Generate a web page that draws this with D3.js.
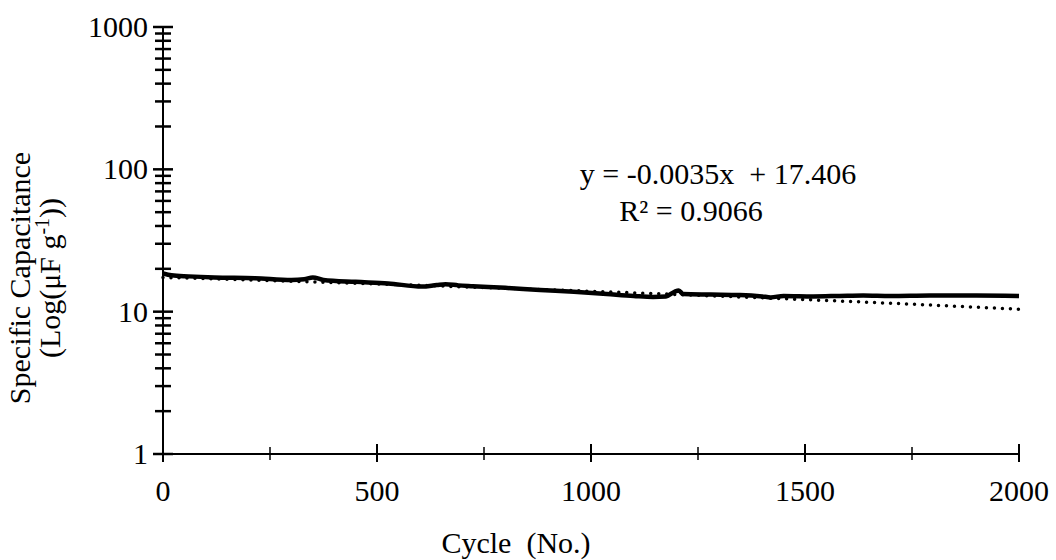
<!DOCTYPE html>
<html>
<head>
<meta charset="utf-8">
<script src="https://cdn.jsdelivr.net/npm/d3@7"></script>
<style>
  body { margin: 0; background: #fff; }
  svg text { font-family: "Liberation Serif", "Times New Roman", serif; fill: #000; }
</style>
</head>
<body>
<div id="chart"></div>
<script>
var cycles = [0, 20, 60, 120, 215, 300, 330, 350, 375, 450, 526, 605, 640, 660, 690, 724, 800, 881, 960, 1037, 1100, 1145, 1175, 1195, 1205, 1215, 1280, 1348, 1400, 1420, 1450, 1519, 1580, 1636, 1700, 1792, 1900, 2000];
var capacitance = [18.6, 18.0, 17.7, 17.4, 17.2, 16.7, 16.9, 17.4, 16.7, 16.2, 15.8, 15.0, 15.4, 15.6, 15.3, 15.1, 14.7, 14.2, 13.8, 13.3, 12.9, 12.7, 12.8, 13.8, 14.1, 13.3, 13.2, 13.1, 12.8, 12.6, 12.9, 12.8, 12.9, 13.0, 12.9, 13.0, 13.0, 12.9];

// Linear trendline shown on the chart (y = -0.0035x + 17.406)
var trendSlope = -0.0035;
var trendIntercept = 17.406;
var trendCycles = d3.range(0, 2001, 50);

// Axis ticks
var xTicks = [0, 500, 1000, 1500, 2000];
var xMinorTicks = [250, 750, 1250, 1750];
var yTicks = [1, 10, 100, 1000];

var width = 1056, height = 560;
var margin = {top: 27, right: 37, bottom: 106, left: 163};
var w = width - margin.left - margin.right,
  h = height - margin.top - margin.bottom;

var svg = d3.select("#chart")
  .append("svg")
  .attr("width", width)
  .attr("height", height);

var g = svg.append("g")
  .attr("transform", "translate(" + margin.left + "," + margin.top + ")");

var xScale = d3.scaleLinear().domain([0, 2000]).range([0, w]);
var yScale = d3.scaleLog().domain([1, 1000]).range([h, 0]);

//Minor log ticks 2..9 for each decade
var yMinorTicks = [];
[1, 10, 100].forEach(function(d) {
  for (var k = 2; k <= 9; k++) yMinorTicks.push(d * k);
});

// Axes lines
g.append("line")
  .attr("x1", 0).attr("x2", w)
  .attr("y1", h).attr("y2", h)
  .style("stroke", "#000").style("stroke-width", 2);

g.append("line")
  .attr("x1", 0).attr("x2", 0)
  .attr("y1", 0).attr("y2", h)
  .style("stroke", "#000").style("stroke-width", 2);

// X ticks (cross the axis)
g.selectAll(".xtick")
  .data(xTicks)
  .enter().append("line")
  .attr("x1", function(d) { return xScale(d); })
  .attr("x2", function(d) { return xScale(d); })
  .attr("y1", h - 10).attr("y2", h + 8)
  .style("stroke", "#000").style("stroke-width", 2);

g.selectAll(".xminor")
  .data(xMinorTicks)
  .enter().append("line")
  .attr("x1", function(d) { return xScale(d); })
  .attr("x2", function(d) { return xScale(d); })
  .attr("y1", h - 7).attr("y2", h + 6)
  .style("stroke", "#000").style("stroke-width", 1.5);

g.selectAll(".xlabel")
  .data(xTicks)
  .enter().append("text")
  .attr("x", function(d) { return xScale(d); })
  .attr("y", h + 47)
  .attr("text-anchor", "middle")
  .style("font-size", "30px")
  .text(function(d) { return d; });

// Y ticks
g.selectAll(".ytick")
  .data(yTicks)
  .enter().append("line")
  .attr("x1", -10).attr("x2", 10)
  .attr("y1", function(d) { return yScale(d); })
  .attr("y2", function(d) { return yScale(d); })
  .style("stroke", "#000").style("stroke-width", 2.5);

g.selectAll(".yminor")
  .data(yMinorTicks)
  .enter().append("line")
  .attr("x1", -8).attr("x2", 8)
  .attr("y1", function(d) { return yScale(d); })
  .attr("y2", function(d) { return yScale(d); })
  .style("stroke", "#000").style("stroke-width", 2.5);

g.selectAll(".ylabel")
  .data(yTicks)
  .enter().append("text")
  .attr("x", -15)
  .attr("y", function(d) { return yScale(d); })
  .attr("dy", "0.33em")
  .attr("text-anchor", "end")
  .style("font-size", "30px")
  .text(function(d) { return d; });

// Measured data
var line = d3.line()
  .x(function(d, i) { return xScale(cycles[i]); })
  .y(function(d) { return yScale(d); })
  .curve(d3.curveMonotoneX);

g.append("path")
  .datum(capacitance)
  .attr("d", line)
  .style("fill", "none")
  .style("stroke", "#000")
  .style("stroke-width", 4.5)
  .style("stroke-linejoin", "round");

// Trendline (dotted)
var trendLine = d3.line()
  .x(function(d) { return xScale(d); })
  .y(function(d) { return yScale(trendSlope * d + trendIntercept); });

g.append("path")
  .datum(trendCycles)
  .attr("d", trendLine)
  .style("fill", "none")
  .style("stroke", "#000")
  .style("stroke-width", 3.5)
  .style("stroke-linecap", "round")
  .style("stroke-dasharray", "0,8");

// Trendline equation
svg.append("text")
  .attr("x", 718).attr("y", 184)
  .attr("text-anchor", "middle")
  .style("font-size", "30px")
  .style("white-space", "pre")
  .text("y = -0.0035x  + 17.406");

svg.append("text")
  .attr("x", 691).attr("y", 221)
  .attr("text-anchor", "middle")
  .style("font-size", "30px")
  .text("R² = 0.9066");

// Axis titles
svg.append("text")
  .attr("x", 516).attr("y", 553)
  .attr("text-anchor", "middle")
  .style("font-size", "30px")
  .style("white-space", "pre")
  .text("Cycle  (No.)");

var yTitle = svg.append("text")
  .attr("transform", "translate(0,278) rotate(-90)")
  .attr("text-anchor", "middle")
  .style("font-size", "30px");

yTitle.append("tspan")
  .attr("x", 0).attr("y", 30)
  .text("Specific  Capacitance");

var t2 = yTitle.append("tspan")
  .attr("x", 0).attr("y", 60);
t2.append("tspan").text("(Log(μF  g");
t2.append("tspan").attr("dy", -11).style("font-size", "20px").text("-1");
t2.append("tspan").attr("dy", 11).text("))");
</script>
</body>
</html>
